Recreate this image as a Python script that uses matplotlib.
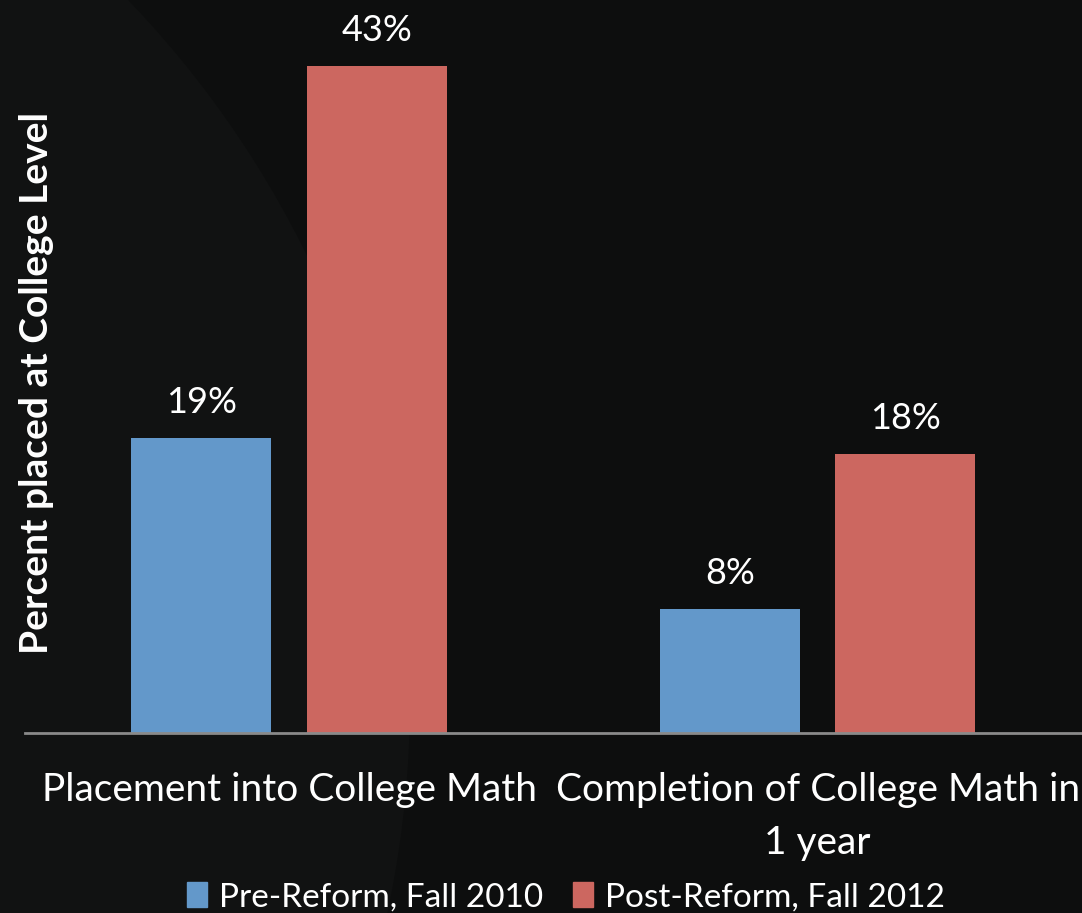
import matplotlib
matplotlib.use("Agg")
import matplotlib.pyplot as plt
from matplotlib.patches import Circle, Patch
import numpy as np

categories = ["Placement into College Math", "Completion of College Math in\n1 year"]
series_names = ["Pre-Reform, Fall 2010", "Post-Reform, Fall 2012"]
pre_reform = [19, 8]
post_reform = [43, 18]

blue = "#6398CA"
red = "#CC6760"
bg = "#0d0e0e"

plt.rcParams['font.family'] = ['Lato', 'DejaVu Sans']

fig = plt.figure(figsize=(10.82, 9.13), dpi=100, facecolor=bg)

# faint arc in the slide background (inches)
fig.patches.append(Circle((-6.0, 2.13), 10.1, transform=fig.dpi_scale_trans,
                          facecolor="#111212", edgecolor="none", zorder=-5))

ax = fig.add_axes([25 / 1082, 1 - 733 / 913, 1057 / 1082, 733 / 913])
ax.set_facecolor("none")

x = np.arange(len(categories))
w = 0.265
b1 = ax.bar(x - 0.1665, pre_reform, w, color=blue, label=series_names[0])
b2 = ax.bar(x + 0.1655, post_reform, w, color=red, label=series_names[1])

for bars, vals in ((b1, pre_reform), (b2, post_reform)):
    for bar, v in zip(bars, vals):
        ax.text(bar.get_x() + bar.get_width() / 2, v + 1.2, f"{v}%",
                ha="center", va="bottom", color="white", fontsize=26)

ax.set_xlim(-0.5, 1.5)
ax.set_ylim(0, 733 / 15.52)

for s in ("top", "right", "left"):
    ax.spines[s].set_visible(False)
ax.spines["bottom"].set_color("#8a8a8a")
ax.spines["bottom"].set_linewidth(2)
ax.set_yticks([])
ax.set_xticks(x)
ax.set_xticklabels(categories, color="white", fontsize=28, linespacing=1.6)
ax.tick_params(axis="x", length=0, pad=28)

fig.text(37 / 1082, 1 - 383 / 913, "Percent placed at College Level",
         rotation=90, ha="center", va="center", color="white",
         fontsize=28, fontweight="bold")

handles = [Patch(color=blue), Patch(color=red)]
fig.legend(handles, series_names, loc="center", bbox_to_anchor=(0.523, 1 - 897 / 913),
           ncol=2, frameon=False, fontsize=24, labelcolor="white",
           handlelength=0.6, handleheight=0.8, handletextpad=0.35, columnspacing=0.9)

fig.savefig("out.png", dpi=100, facecolor=bg)
